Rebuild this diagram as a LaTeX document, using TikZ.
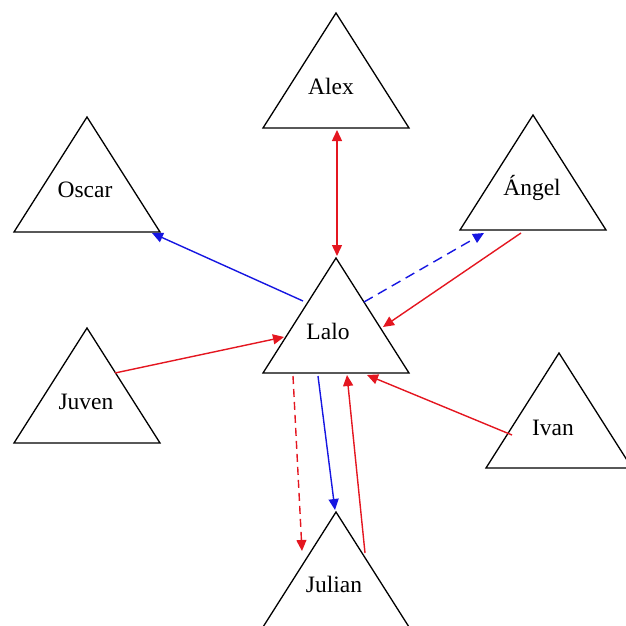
\documentclass[tikz,border=0pt]{standalone}
\usepackage{fontspec}
\setmainfont{Liberation Serif}
\usetikzlibrary{arrows.meta}
\definecolor{linkred}{RGB}{228,22,32}
\definecolor{linkblue}{RGB}{22,22,225}
\tikzset{
  person/.style={draw=black, line width=1.3pt, line join=miter, fill=white},
  who/.style={font=\fontsize{23.5}{27}\selectfont, anchor=base, inner sep=0pt},
  tip/.tip={Triangle[length=11pt,width=10pt]},
  link/.style={line width=1.4pt, -tip},
  twoway/.style={line width=1.4pt, tip-tip},
  dashlink/.style={link, dash pattern=on 8pt off 5pt},
}
% #1 node name, #2/#3 apex, #4/#5 label base point, #6 label
\newcommand\persontri[6]{%
  \draw[person] (#2,#3) -- ++(-73,115) -- ++(146,0) -- cycle;
  \node[who] (#1) at (#4,#5) {#6};
}
\begin{document}
\begin{tikzpicture}[x=1pt,y=-1pt]
\useasboundingbox (0,0) rectangle (626,626);
\clip (0,0) rectangle (626,626);

% people
\persontri{alex}{336}{13}{331}{94}{Alex}
\persontri{oscar}{87}{117}{85}{197}{Oscar}
\persontri{angel}{533}{115}{532}{195}{Ángel}
\persontri{lalo}{336}{258}{328}{339}{Lalo}
\persontri{juven}{87}{328}{86}{409}{Juven}
\persontri{ivan}{559}{353}{553}{435}{Ivan}
\persontri{julian}{336}{512}{334}{592}{Julian}

% connector end points on the triangle edges
\coordinate (alexB)   at (337,130);
\coordinate (laloT)   at (337,256);
\coordinate (laloW)   at (303,301);
\coordinate (oscarE)  at (152,233);
\coordinate (laloNE)  at (364,302);
\coordinate (angelSW) at (484,233);
\coordinate (angelS)  at (521,233);
\coordinate (laloE)   at (383,327);
\coordinate (juvenE)  at (115,373);
\coordinate (laloWW)  at (284,337);
\coordinate (ivanW)   at (512,435);
\coordinate (laloSE)  at (367,375);
\coordinate (laloS1)  at (293,376);
\coordinate (julianW) at (302,551);
\coordinate (laloS2)  at (318,376);
\coordinate (julianT) at (335,510);
\coordinate (julianE) at (365,553);
\coordinate (laloS3)  at (347,375);

% connectors
\draw[twoway, linkred] (alexB) -- (laloT);
\draw[link, linkblue] (laloW) -- (oscarE);
\draw[link, linkblue, dash pattern=on 10pt off 6pt] (laloNE) -- (angelSW);
\draw[link, linkred] (angelS) -- (laloE);
\draw[link, linkred] (juvenE) -- (laloWW);
\draw[link, linkred] (ivanW) -- (laloSE);
\draw[dashlink, linkred] (laloS1) -- (julianW);
\draw[link, linkblue] (laloS2) -- (julianT);
\draw[link, linkred] (julianE) -- (laloS3);
\end{tikzpicture}
\end{document}
